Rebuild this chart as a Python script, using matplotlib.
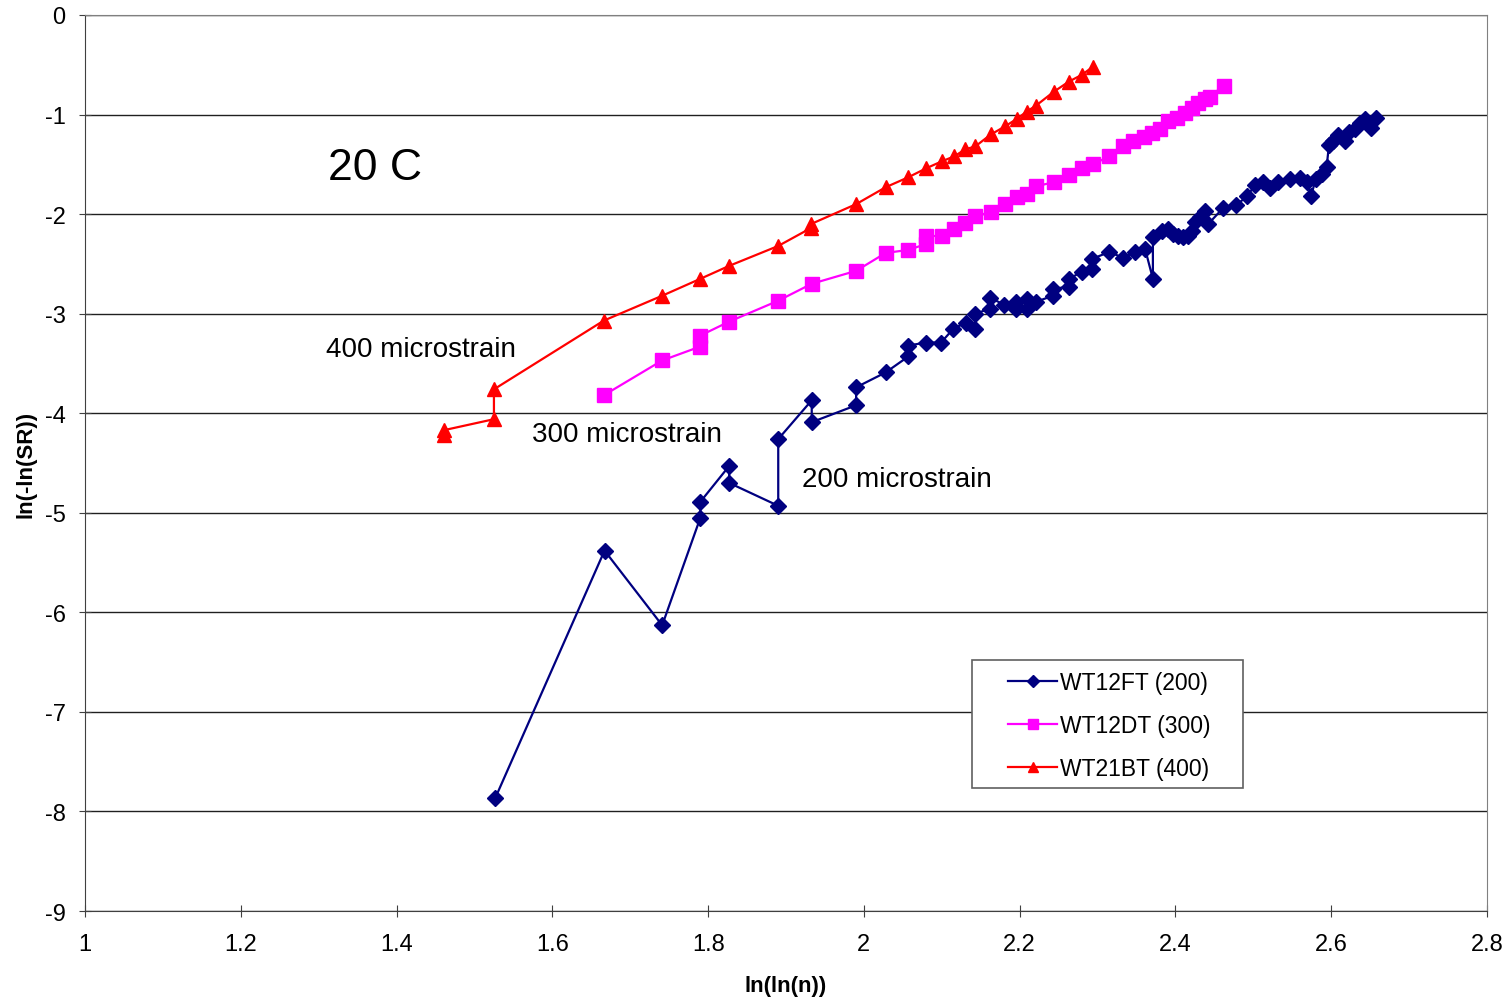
import matplotlib.pyplot as plt
from matplotlib.patches import Rectangle
from matplotlib.ticker import FuncFormatter

plt.rcParams['font.family'] = ['Liberation Sans', 'DejaVu Sans']
plt.rcParams['axes.unicode_minus'] = False

# WT12FT (200 microstrain)
x200 = [1.527, 1.667, 1.741, 1.790, 1.790, 1.827, 1.827, 1.890, 1.890, 1.933, 1.933,
        1.990, 1.990, 2.028, 2.057, 2.057, 2.080, 2.099, 2.115, 2.131, 2.143, 2.143,
        2.162, 2.162, 2.180, 2.195, 2.195, 2.209, 2.209, 2.221, 2.243, 2.243, 2.263,
        2.263, 2.280, 2.293, 2.293, 2.315, 2.333, 2.348, 2.361, 2.371, 2.371, 2.383,
        2.391, 2.397, 2.403, 2.410, 2.416, 2.421, 2.425, 2.431, 2.438, 2.442, 2.461,
        2.478, 2.492, 2.502, 2.512, 2.521, 2.532, 2.547, 2.560, 2.569, 2.574, 2.580,
        2.588, 2.594, 2.597, 2.602, 2.609, 2.618, 2.623, 2.630, 2.637, 2.643, 2.651,
        2.657]
y200 = [-7.86, -5.38, -6.13, -5.05, -4.89, -4.53, -4.70, -4.93, -4.26, -3.87, -4.09,
        -3.92, -3.74, -3.59, -3.43, -3.32, -3.29, -3.29, -3.15, -3.09, -3.15, -3.00,
        -2.95, -2.84, -2.91, -2.95, -2.88, -2.95, -2.85, -2.88, -2.82, -2.75, -2.73,
        -2.65, -2.58, -2.55, -2.45, -2.38, -2.44, -2.38, -2.35, -2.65, -2.23, -2.17,
        -2.15, -2.20, -2.22, -2.23, -2.22, -2.17, -2.08, -2.03, -1.97, -2.10, -1.94,
        -1.91, -1.82, -1.71, -1.68, -1.74, -1.68, -1.65, -1.64, -1.68, -1.82, -1.65,
        -1.60, -1.53, -1.31, -1.27, -1.21, -1.27, -1.18, -1.15, -1.09, -1.04, -1.14,
        -1.03]

# WT12DT (300 microstrain)
x300 = [1.666, 1.741, 1.790, 1.790, 1.827, 1.890, 1.933, 1.990, 2.028, 2.057, 2.080,
        2.080, 2.100, 2.116, 2.130, 2.143, 2.163, 2.181, 2.197, 2.209, 2.221, 2.244,
        2.263, 2.280, 2.294, 2.315, 2.333, 2.346, 2.359, 2.370, 2.380, 2.391, 2.402,
        2.412, 2.421, 2.429, 2.438, 2.444, 2.462]
y300 = [-3.82, -3.47, -3.33, -3.22, -3.08, -2.87, -2.70, -2.57, -2.39, -2.36, -2.30,
        -2.22, -2.22, -2.15, -2.09, -2.02, -1.98, -1.90, -1.83, -1.80, -1.72, -1.68,
        -1.61, -1.54, -1.50, -1.42, -1.32, -1.27, -1.23, -1.19, -1.15, -1.07, -1.03,
        -0.98, -0.93, -0.88, -0.84, -0.82, -0.71]

# WT21BT (400 microstrain)
x400 = [1.461, 1.461, 1.525, 1.525, 1.666, 1.741, 1.790, 1.827, 1.890, 1.932, 1.932,
        1.990, 2.028, 2.057, 2.080, 2.100, 2.116, 2.130, 2.143, 2.163, 2.181, 2.197,
        2.209, 2.221, 2.244, 2.263, 2.280, 2.294]
y400 = [-4.22, -4.17, -4.06, -3.76, -3.07, -2.82, -2.65, -2.52, -2.32, -2.14, -2.10,
        -1.90, -1.73, -1.63, -1.54, -1.47, -1.42, -1.35, -1.32, -1.20, -1.12, -1.04,
        -0.97, -0.91, -0.77, -0.67, -0.60, -0.52]

fig = plt.figure(figsize=(15.1, 10.04), dpi=100)
ax = fig.add_axes([0.0563, 0.0916, 0.9285, 0.8925])

ax.plot(x200, y200, color='#000080', marker='D', markersize=8, linewidth=1.6,
        label='WT12FT (200)')
ax.plot(x300, y300, color='#FF00FF', marker='s', markersize=10, linewidth=1.6,
        label='WT12DT (300)')
ax.plot(x400, y400, color='#FF0000', marker='^', markersize=10, linewidth=1.6,
        label='WT21BT (400)')

ax.set_xlim(1, 2.8)
ax.set_ylim(-9, 0)
ax.set_xticks([1 + 0.2 * i for i in range(10)])
ax.set_yticks(range(-9, 1))
ax.xaxis.set_major_formatter(FuncFormatter(lambda v, p: '%g' % round(v, 2)))
ax.tick_params(labelsize=17, length=8, direction='inout', color='#404040')
ax.tick_params(axis='x', pad=12)
ax.tick_params(axis='y', pad=10)
ax.grid(axis='y', color='#202020', linewidth=1)
ax.set_axisbelow(True)
for s in ax.spines.values():
    s.set_color('#808080')
ax.spines['left'].set_color('#404040')
ax.spines['bottom'].set_color('#404040')

ax.set_xlabel('ln(ln(n))', fontsize=16, fontweight='bold', labelpad=14)
ax.set_ylabel('ln(-ln(SR))', fontsize=16, fontweight='bold', labelpad=6)

ax.text(1.312, -1.53, '20 C', fontsize=32, va='center')
ax.text(1.309, -3.35, '400 microstrain', fontsize=20, va='center')
ax.text(1.574, -4.21, '300 microstrain', fontsize=20, va='center')
ax.text(1.921, -4.66, '200 microstrain', fontsize=20, va='center')

# legend box drawn separately so its padding can match the reference
ax.add_patch(Rectangle((0.6327, 0.1373), 0.1933, 0.1429, transform=ax.transAxes,
                       facecolor='white', edgecolor='#606060', linewidth=1.2,
                       zorder=4))
leg = ax.legend(loc='center left', bbox_to_anchor=(0.6505, 0.2068), fontsize=16.5,
                frameon=False, borderpad=0, handlelength=2.1, markerscale=0.75,
                labelspacing=0.88, handletextpad=0.15)
leg.set_zorder(5)

fig.savefig('out.png', dpi=100)
